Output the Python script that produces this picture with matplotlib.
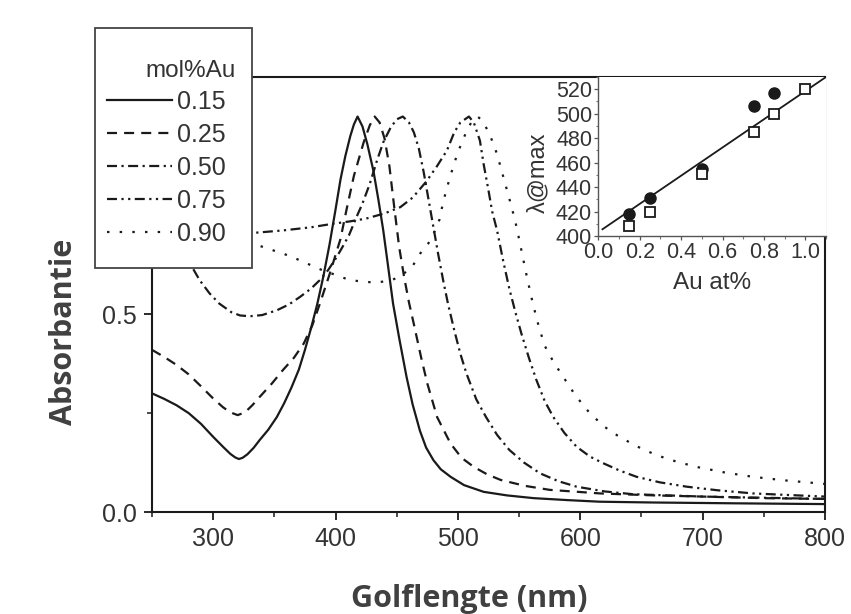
import matplotlib
matplotlib.use("Agg")
import matplotlib.pyplot as plt
from matplotlib.patches import Rectangle
from matplotlib.ticker import MultipleLocator

plt.rcParams["font.family"] = ["Liberation Sans", "DejaVu Sans"]

# UV-vis spectra (wavelength nm, absorbance)
wl_015 = [250, 260, 270, 280, 290, 300, 308, 314, 318, 321, 324, 328, 333, 338, 345, 352,
          358, 364, 370, 375, 380, 385, 390, 395, 400, 404, 408, 412, 415, 418, 422, 426,
          431, 435, 439, 443, 447, 452, 458, 463, 469, 474, 480, 486, 494, 505, 521, 540,
          562, 590, 616, 660, 725, 800]
abs_015 = [0.300, 0.286, 0.270, 0.250, 0.223, 0.190, 0.165, 0.147, 0.138, 0.134, 0.137, 0.146,
           0.162, 0.182, 0.208, 0.240, 0.275, 0.315, 0.360, 0.410, 0.465, 0.525, 0.595, 0.675,
           0.765, 0.840, 0.900, 0.950, 0.980, 1.000, 0.975, 0.930, 0.862, 0.790, 0.712, 0.620,
           0.527, 0.440, 0.342, 0.272, 0.205, 0.163, 0.131, 0.108, 0.089, 0.068, 0.051, 0.042,
           0.035, 0.030, 0.026, 0.024, 0.022, 0.020]

wl_025 = [250, 260, 270, 280, 290, 300, 308, 314, 320, 326, 332, 338, 348, 357, 366, 374,
          381, 387, 395, 404, 409, 415, 423, 428, 432, 436, 440, 444, 448, 452, 456, 460,
          464, 470, 475, 483, 494, 503, 513, 524, 535, 555, 575, 616, 660, 700, 750, 800]
abs_025 = [0.410, 0.392, 0.372, 0.348, 0.318, 0.287, 0.265, 0.252, 0.245, 0.252, 0.270, 0.291,
           0.325, 0.359, 0.390, 0.426, 0.472, 0.525, 0.600, 0.690, 0.765, 0.850, 0.935, 0.978,
           1.000, 0.985, 0.945, 0.875, 0.770, 0.670, 0.595, 0.530, 0.475, 0.390, 0.325, 0.240,
           0.173, 0.137, 0.114, 0.095, 0.081, 0.066, 0.056, 0.047, 0.042, 0.039, 0.035, 0.033]

wl_050 = [250, 265, 277, 289, 297, 305, 315, 322, 330, 340, 352, 362, 371, 380, 387, 394,
          401, 406, 411, 417, 422, 428, 434, 439, 445, 450, 455, 460, 464, 468, 472, 476,
          480, 484, 488, 492, 497, 502, 507, 515, 523, 532, 542, 554, 567, 582, 597, 620,
          643, 700, 750, 800]
abs_050 = [0.800, 0.720, 0.650, 0.586, 0.553, 0.527, 0.505, 0.497, 0.495, 0.498, 0.510, 0.525,
           0.544, 0.565, 0.586, 0.612, 0.645, 0.672, 0.700, 0.745, 0.780, 0.830, 0.890, 0.935,
           0.972, 0.993, 1.000, 0.985, 0.960, 0.920, 0.860, 0.790, 0.720, 0.650, 0.585, 0.525,
           0.460, 0.400, 0.350, 0.285, 0.240, 0.195, 0.157, 0.125, 0.098, 0.078, 0.064, 0.052,
           0.045, 0.039, 0.036, 0.033]

wl_075 = [250, 290, 330, 357, 380, 398, 412, 425, 440, 453, 463, 474, 483, 491, 497, 502,
          509, 513, 518, 521, 525, 528, 532, 537, 542, 547, 552, 558, 564, 571, 578, 587,
          597, 608, 619, 632, 646, 665, 687, 712, 741, 770, 800]
abs_075 = [0.690, 0.700, 0.705, 0.712, 0.720, 0.729, 0.735, 0.742, 0.755, 0.771, 0.795, 0.835,
           0.875, 0.914, 0.960, 0.985, 1.000, 0.985, 0.939, 0.880, 0.813, 0.760, 0.712, 0.635,
           0.565, 0.505, 0.450, 0.390, 0.335, 0.280, 0.240, 0.200, 0.165, 0.140, 0.123, 0.105,
           0.089, 0.075, 0.064, 0.055, 0.047, 0.043, 0.039]

wl_090 = [250, 290, 320, 341, 363, 388, 412, 432, 445, 454, 463, 469, 476, 481, 485, 488,
          492, 496, 500, 504, 508, 512, 516, 520, 526, 532, 536, 540, 544, 548, 552, 556,
          561, 566, 571, 578, 586, 596, 608, 620, 632, 647, 662, 678, 695, 718, 741, 767, 800]
abs_090 = [0.760, 0.720, 0.690, 0.670, 0.647, 0.613, 0.586, 0.580, 0.585, 0.598, 0.622, 0.653,
           0.680, 0.710, 0.740, 0.785, 0.830, 0.872, 0.910, 0.940, 0.970, 0.990, 1.000, 0.990,
           0.955, 0.905, 0.860, 0.815, 0.770, 0.720, 0.660, 0.600, 0.530, 0.470, 0.420, 0.380,
           0.342, 0.295, 0.249, 0.215, 0.190, 0.165, 0.144, 0.128, 0.114, 0.100, 0.089, 0.080,
           0.071]

series_labels = ["0.15", "0.25", "0.50", "0.75", "0.90"]
legend_title = "mol%Au"

# inset: peak position vs Au content
au_filled = [0.15, 0.25, 0.50, 0.75, 0.85]
lam_filled = [418, 431, 455, 506, 517]
au_open = [0.15, 0.25, 0.50, 0.75, 0.85, 1.00]
lam_open = [408, 420, 451, 485, 500, 520]
fit_x = [0.02, 1.10]
fit_y = [405.5, 530.0]

# line styles (dash patterns scale with linewidth)
DASHES = [
    (None, None),
    (4.5, 3.2),
    (4.5, 2.0, 1.0, 2.0),
    (4.5, 2.0, 1.0, 2.0, 1.0, 2.0),
    (1.1, 4.6),
]
INK = "#1a1a1a"
TXT = "#333333"

W, H = 851, 614
fig = plt.figure(figsize=(W / 100, H / 100), dpi=100)
ax = fig.add_axes([152 / W, 1 - 512 / H, (825 - 152) / W, (512 - 77) / H])

curves = [(wl_015, abs_015), (wl_025, abs_025), (wl_050, abs_050),
          (wl_075, abs_075), (wl_090, abs_090)]
for (wl, ab), lab, d in zip(curves, series_labels, DASHES):
    if d[0] is None:
        ax.plot(wl, ab, color=INK, lw=1.6, label=lab)
    else:
        ax.plot(wl, ab, color=INK, lw=1.6, dashes=d, label=lab)

ax.set_xlim(250, 800)
ax.set_ylim(0, 1.1)
ax.set_xticks([300, 400, 500, 600, 700, 800])
ax.xaxis.set_minor_locator(MultipleLocator(50))
ax.set_yticks([0.0, 0.5, 1.0])
ax.set_yticklabels(["0.0", "0.5", "1.0"])
ax.yaxis.set_minor_locator(MultipleLocator(0.25))
ax.tick_params(which="major", direction="out", length=6, width=1.3, labelsize=18,
               pad=5, colors=INK, labelcolor=TXT)
ax.tick_params(which="minor", direction="out", length=3.5, width=1.1, colors=INK)
for s in ax.spines.values():
    s.set_linewidth(1.5)
    s.set_color(INK)

ax.set_xlabel("Golflengte (nm)", fontsize=22, fontweight="bold", family="Open Sans",
              color="#404040")
ax.xaxis.set_label_coords(0.472, -0.166)
ax.set_ylabel("Absorbantie", fontsize=22, fontweight="bold", family="Open Sans",
              color="#404040")
ax.yaxis.set_label_coords(-0.108, 0.415)

# legend box sits half outside the axes and hides what is behind it
box = Rectangle((95 / W, 1 - 268 / H), (252 - 95) / W, (268 - 28) / H,
                transform=fig.transFigure, facecolor="white", edgecolor="#444444",
                linewidth=1.3, zorder=4.5, clip_on=False)
ax.add_artist(box)
leg = ax.legend(loc="upper left", bbox_to_anchor=(107 / W, 1 - 90 / H),
                bbox_transform=fig.transFigure, fontsize=18,
                frameon=False, handlelength=2.6, handletextpad=0.2, labelspacing=0.36,
                borderpad=0, borderaxespad=0)
leg.set_zorder(5)
for t in leg.get_texts():
    t.set_color(TXT)
fig.text(236 / W, 1 - 71 / H, legend_title, ha="right", va="center", fontsize=17.5,
         color=TXT, zorder=6)

# inset
axin = fig.add_axes([598.3 / W, 1 - 236 / H, (826 - 598.3) / W, (236 - 77) / H])
axin.plot(fit_x, fit_y, color=INK, lw=1.3)
axin.plot(au_filled, lam_filled, "o", color=INK, ms=8)
axin.plot(au_open, lam_open, "s", mfc="white", mec=INK, mew=1.3, ms=7)
axin.set_xlim(0, 1.1)
axin.set_ylim(400, 530)
axin.set_xticks([0.0, 0.2, 0.4, 0.6, 0.8, 1.0])
axin.set_xticklabels(["0.0", "0.2", "0.4", "0.6", "0.8", "1.0"])
axin.xaxis.set_minor_locator(MultipleLocator(0.1))
axin.set_yticks([400, 420, 440, 460, 480, 500, 520])
axin.yaxis.set_minor_locator(MultipleLocator(10))
axin.tick_params(which="major", direction="out", length=3, width=0.9, labelsize=15.5,
                 pad=1.5, colors="#555555", labelcolor=TXT)
axin.tick_params(which="minor", direction="out", length=1.8, width=0.8, colors="#777777")
axin.spines["top"].set_visible(False)
axin.spines["right"].set_visible(False)
for k in ("left", "bottom"):
    axin.spines[k].set_linewidth(1.0)
    axin.spines[k].set_color("#555555")
axin.set_xlabel("Au at%", fontsize=17.5, color=TXT, labelpad=6)
axin.set_ylabel("λ@max", fontsize=17, color=TXT)
axin.yaxis.set_label_coords(-0.215, 0.40)

fig.savefig("out.png", dpi=100)
